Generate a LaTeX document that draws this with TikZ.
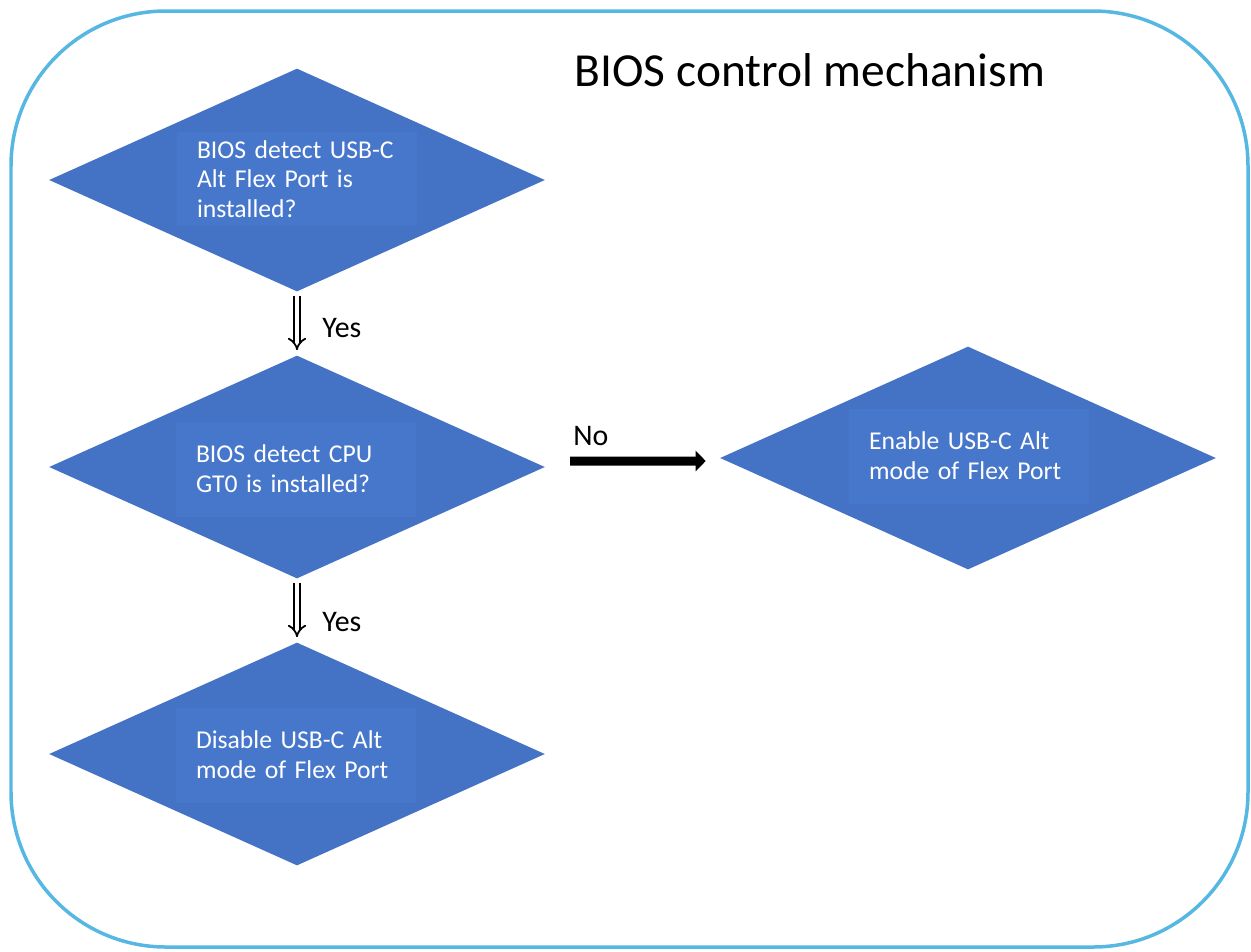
\documentclass[tikz,border=0pt]{standalone}
\usepackage{fontspec}
\setmainfont{Carlito}
\usetikzlibrary{shapes.geometric,arrows.meta}
\definecolor{frameblue}{RGB}{86,184,226}
\definecolor{dia}{RGB}{68,114,196}
\definecolor{diabox}{RGB}{71,119,203}
\tikzset{
  px/.style={x=0.02cm,y=-0.02cm},
  decision/.style={diamond, fill=dia, draw=none, inner sep=0pt, minimum width=9.92cm, minimum height=4.46cm},
  textbox/.style={fill=diabox, draw=none, text=white, align=left, text width=4.0cm, inner xsep=0.4cm, inner ysep=0pt, minimum height=1.9cm, font=\fontsize{14.6pt}{16.9pt}\selectfont},
  label/.style={text=black, font=\fontsize{17pt}{20pt}\selectfont, inner sep=0pt},
  yesarrow/.style={double, double distance=0.09cm, line width=0.035cm, -{Implies[length=0.2cm]}},
  noarrow/.style={line width=0.18cm, -{Triangle[length=0.2cm,width=0.4cm]}}
}
\begin{document}
\begin{tikzpicture}[px]
\useasboundingbox (0,0) rectangle (1251,951);
\draw[frameblue, line width=0.07cm, rounded corners=3.1cm] (11,11) rectangle (1248,947);
\node[text=black, font=\fontsize{27pt}{32pt}\selectfont, inner sep=0pt] (title) at (810,70) {BIOS control mechanism};

\node[decision] (d1) at (297,180) {};
\node[decision] (d2) at (297,467) {};
\node[decision] (d3) at (297,754) {};
\node[decision] (d4) at (968,458) {};

\node[textbox] (t1) at (297,179) {BIOS detect USB-C\\Alt Flex Port is\\installed?};
\node[textbox] (t2) at (296,469) {BIOS detect CPU\\GT0 is installed?};
\node[textbox] (t3) at (296,755) {Disable USB-C Alt\\mode of Flex Port};
\node[textbox] (t4) at (969,456) {Enable USB-C Alt\\mode of Flex Port};

\draw[yesarrow] ([yshift=-0.08cm]d1.south) -- ([yshift=0.1cm]d2.north);
\draw[yesarrow] ([yshift=-0.08cm]d2.south) -- ([yshift=0.1cm]d3.north);
\node[label, anchor=west] (y1) at (322,328) {Yes};
\node[label, anchor=west] (y2) at (322,622) {Yes};

\coordinate (nostart) at (570,461);
\draw[noarrow] (nostart) -- ([xshift=-0.28cm,yshift=-0.06cm]d4.west);
\node[label, anchor=west] (no) at (573,436) {No};
\end{tikzpicture}
\end{document}
